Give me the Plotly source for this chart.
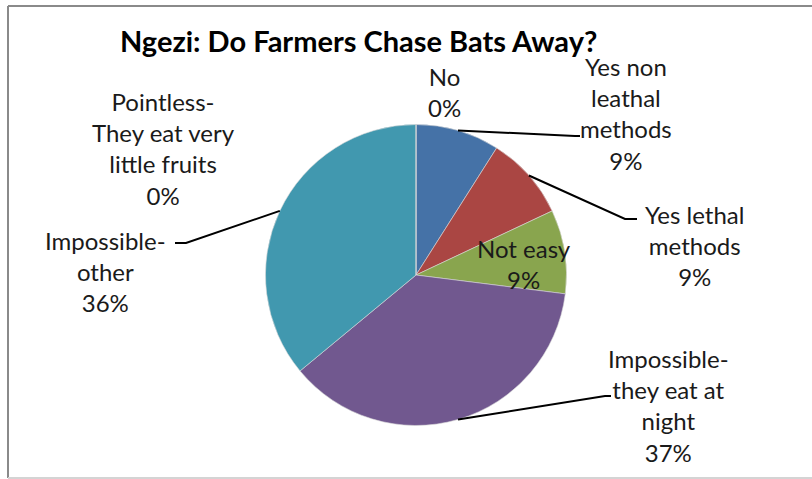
import math
import plotly.graph_objects as go

W, H = 812, 479

# ---- data ----
categories = ["No", "Yes non leathal methods", "Yes lethal methods", "Not easy",
              "Impossible-they eat at night", "Impossible-other",
              "Pointless-They eat very little fruits"]
display_labels = ["No", "Yes non<br>leathal<br>methods", "Yes lethal<br>methods", "Not easy",
                  "Impossible-<br>they eat at<br>night", "Impossible-<br>other",
                  "Pointless-<br>They eat very<br>little fruits"]
values = [0, 9, 9, 9, 37, 36, 0]
colors = ["#4F81BD", "#4572A7", "#AA4643", "#89A54E", "#71588F", "#4198AF", "#DB843D"]

# ---- layout helpers (pixels -> paper) ----
def px(x):
    return x / W

def py(y):
    return 1 - y / H

cx, cy, R = 416, 275, 150.5

# label block centres (pixels) and leader anchors (pixels, or None)
label_pos = [(444, 92), (626, 113), (694, 245), (524, 264), (668, 405), (105, 271), (163, 148)]
leader_end = [None, (575, 136), (625, 219), None, (605, 396), (186, 243), None]
leader_tail = [None, (580, 136), (637, 219), None, (611, 396), (175, 243), None]

font_family = "Lato, Carlito, Calibri, sans-serif"
text_color = "#1a1a1a"

fig = go.Figure()
fig.add_trace(go.Pie(
    labels=categories,
    values=values,
    sort=False,
    direction="clockwise",
    rotation=0,
    textinfo="none",
    hoverinfo="label+percent",
    marker=dict(colors=colors, line=dict(color="#d8d8d8", width=0.6)),
    domain=dict(x=[px(cx - R), px(cx + R)], y=[py(cy + R), py(cy - R)]),
    showlegend=False,
))

total = sum(values)
annotations = []
shapes = []
cum = 0.0
for i, (lab, v) in enumerate(zip(display_labels, values)):
    pct = round(100 * v / total)
    mid = (cum + v / 2) / total * 2 * math.pi
    cum += v
    lx, ly = label_pos[i]
    annotations.append(dict(
        x=px(lx), y=py(ly), xref="paper", yref="paper",
        text=f"{lab}<br>{pct}%", showarrow=False,
        xanchor="center", yanchor="middle", align="center",
        font=dict(family=font_family, size=24, color=text_color),
    ))
    if leader_end[i] is not None:
        sx = cx + R * math.sin(mid)
        sy = cy - R * math.cos(mid)
        ex, ey = leader_end[i]
        tx, ty = leader_tail[i]
        shapes.append(dict(type="path", xref="paper", yref="paper",
                           path=f"M {px(sx)},{py(sy)} L {px(ex)},{py(ey)} L {px(tx)},{py(ty)}",
                           line=dict(color="#000000", width=2)))

# title
annotations.append(dict(
    x=px(358), y=py(41), xref="paper", yref="paper",
    text="<b>Ngezi: Do Farmers Chase Bats Away?</b>", showarrow=False,
    xanchor="center", yanchor="middle",
    font=dict(family=font_family, size=29, color="#000000"),
))

# frame
shapes += [
    dict(type="line", xref="paper", yref="paper", x0=px(8), x1=1.02, y0=py(6), y1=py(6),
         line=dict(color="#8a8a8a", width=2)),
    dict(type="line", xref="paper", yref="paper", x0=px(8), x1=px(8), y0=py(6), y1=py(478),
         line=dict(color="#8a8a8a", width=2)),
    dict(type="line", xref="paper", yref="paper", x0=px(8), x1=1.02, y0=py(478), y1=py(478),
         line=dict(color="#d4d4d4", width=2)),
]

fig.update_layout(
    width=W, height=H,
    margin=dict(l=0, r=0, t=0, b=0),
    paper_bgcolor="white", plot_bgcolor="white",
    annotations=annotations, shapes=shapes,
)

fig.write_html("out.html")
